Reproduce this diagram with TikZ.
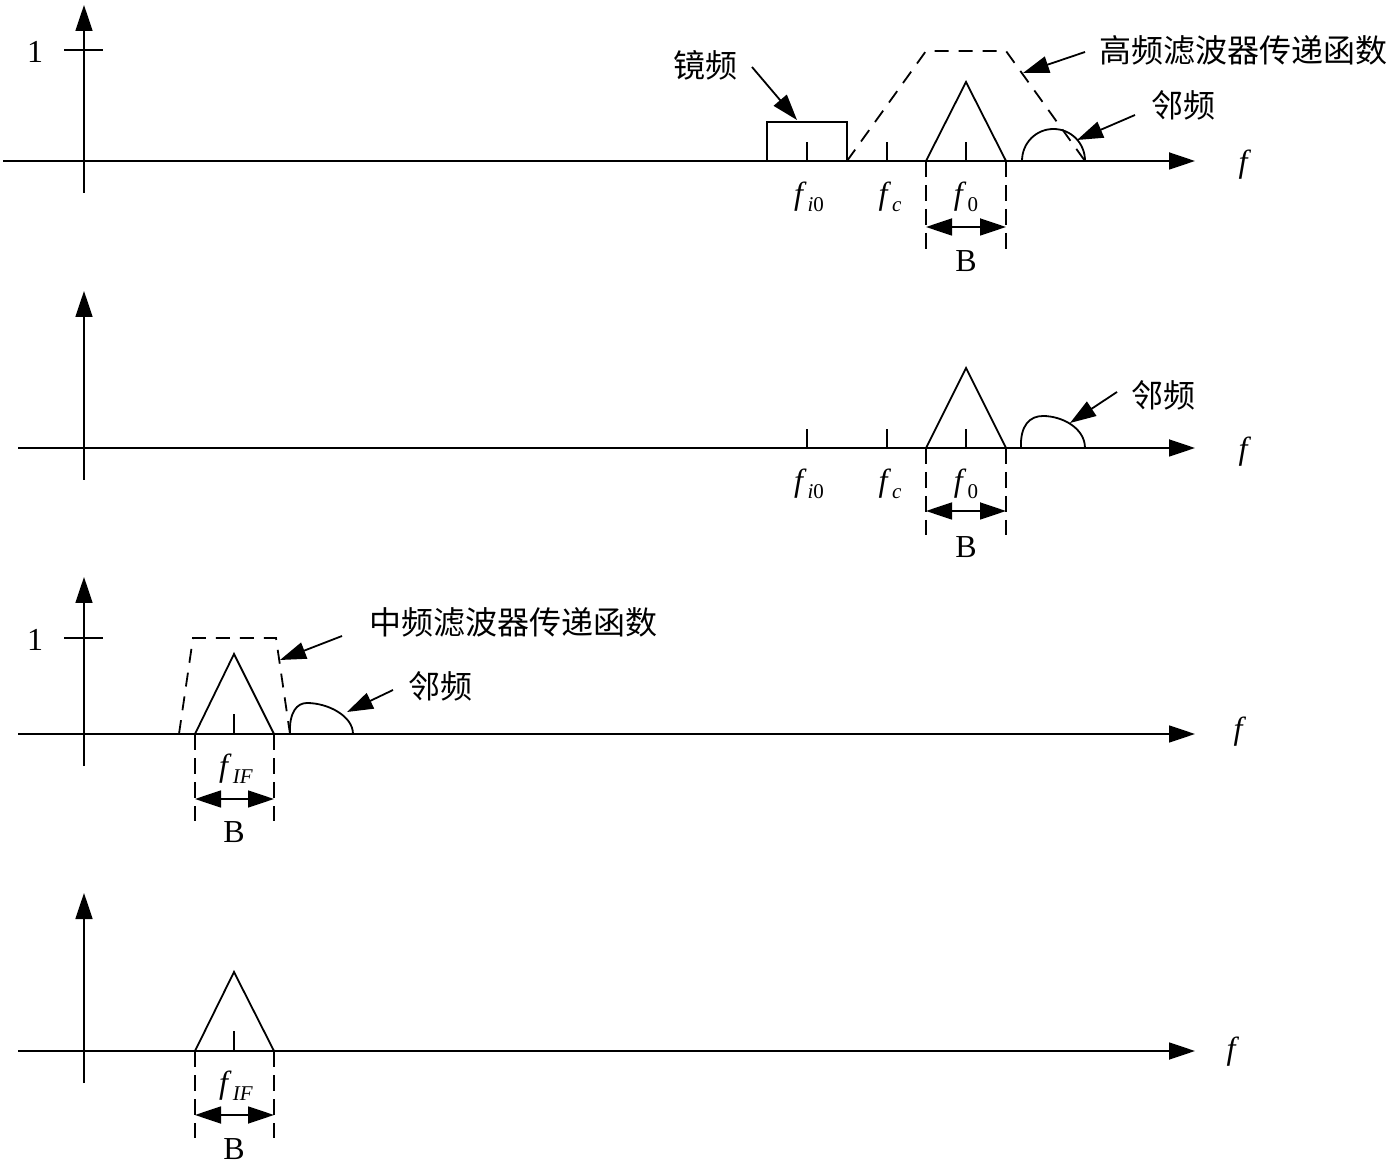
\documentclass[tikz,border=0pt]{standalone}
\usepackage{fontspec}
\setmainfont{Liberation Serif}
\newfontfamily\cjk{Noto Sans CJK SC}
\usetikzlibrary{arrows.meta}
\newcommand\flab[1]{\textit{f}\kern0.5pt\raisebox{-3.5pt}{\fontsize{10.5}{11}\selectfont #1}}
\begin{document}
\begin{tikzpicture}[x=0.5pt,y=-0.5pt,line width=0.9pt,
  tipr/.style={-{Triangle[length=13pt,width=8.5pt]}},
  dtip/.style={{Triangle[length=13pt,width=8.5pt]}-{Triangle[length=13pt,width=8.5pt]}},
  dsh/.style={dash pattern=on 7pt off 5pt},
  vdsh/.style={dash pattern=on 8pt off 4pt},
  lbl/.style={font=\fontsize{16}{18}\selectfont,inner sep=0pt},
  clbl/.style={font=\cjk\fontsize{16}{18}\selectfont,inner sep=0pt}]
\useasboundingbox (0,0) rectangle (1399,1176);

% ---------------- Panel 1 ----------------
\coordinate (h1s) at (3,161); \coordinate (h1e) at (1195,161);
\coordinate (v1s) at (84,193); \coordinate (v1e) at (84,5);
\draw[tipr] (h1s) -- (h1e);
\draw[tipr] (v1s) -- (v1e);
\coordinate (o1a) at (64,50); \coordinate (o1b) at (103,50);
\draw (o1a) -- (o1b);
\node[lbl] (one1) at (35,52) {1};
\node[lbl] (fa1) at (1245,165) {\textit{f}};
% image band
\coordinate (r1a) at (767,161); \coordinate (r1b) at (767,122);
\coordinate (r1c) at (847,122); \coordinate (r1d) at (847,161);
\draw (r1a) -- (r1b) -- (r1c) -- (r1d);
% ticks
\draw (807,161) -- (807,142);
\draw (887,161) -- (887,142);
\draw (966,161) -- (966,142);
% signal triangle
\coordinate (t1a) at (926,161); \coordinate (t1b) at (966,82); \coordinate (t1c) at (1006,161);
\draw (t1a) -- (t1b) -- (t1c);
% RF filter trapezoid
\coordinate (z1a) at (847,161); \coordinate (z1b) at (926,51);
\coordinate (z1c) at (1006,51); \coordinate (z1d) at (1085,161);
\draw[dsh] (z1a) -- (z1b) -- (z1c) -- (z1d);
% adjacent channel
\draw (1022,161) .. controls (1022,143) and (1036,129) .. (1053.5,129)
      .. controls (1071,129) and (1085,143) .. (1085,161);
% bandwidth
\coordinate (b1l) at (926,250); \coordinate (b1r) at (1006,250);
\draw[vdsh] (t1a) -- (b1l);
\draw[vdsh] (t1c) -- (b1r);
\coordinate (d1l) at (926,227); \coordinate (d1r) at (1006,227);
\draw[dtip] (d1l) -- (d1r);
\node[lbl] (fi1) at (809,197) {\flab{\textit{i}0}};
\node[lbl] (fc1) at (890,197) {\flab{\textit{c}}};
\node[lbl] (f01) at (966,197) {\flab{0}};
\node[lbl] (B1) at (966,261) {B};
% labels with pointers
\node[clbl] (jing) at (705,65) {镜频};
\coordinate (jp1) at (752,67); \coordinate (jp2) at (797,120);
\draw[tipr] (jp1) -- (jp2);
\node[clbl] (gao) at (1243,50) {高频滤波器传递函数};
\coordinate (gp1) at (1085,52); \coordinate (gp2) at (1023,73);
\draw[tipr] (gp1) -- (gp2);
\node[clbl] (lin1) at (1183,105) {邻频};
\coordinate (lp1) at (1135,115); \coordinate (lp2) at (1077,140);
\draw[tipr] (lp1) -- (lp2);

% ---------------- Panel 2 ----------------
\coordinate (h2s) at (18,448); \coordinate (h2e) at (1195,448);
\coordinate (v2s) at (84,480); \coordinate (v2e) at (84,291);
\draw[tipr] (h2s) -- (h2e);
\draw[tipr] (v2s) -- (v2e);
\node[lbl] (fa2) at (1245,452) {\textit{f}};
\draw (807,448) -- (807,429);
\draw (887,448) -- (887,429);
\draw (966,448) -- (966,429);
\coordinate (t2a) at (926,448); \coordinate (t2b) at (966,368); \coordinate (t2c) at (1006,448);
\draw (t2a) -- (t2b) -- (t2c);
\draw (1021,448) .. controls (1020,425) and (1030,416) .. (1043,416)
      .. controls (1062,416) and (1085,428) .. (1085,448);
\coordinate (b2l) at (926,535); \coordinate (b2r) at (1006,535);
\draw[vdsh] (t2a) -- (b2l);
\draw[vdsh] (t2c) -- (b2r);
\coordinate (d2l) at (926,511); \coordinate (d2r) at (1006,511);
\draw[dtip] (d2l) -- (d2r);
\node[lbl] (fi2) at (809,484) {\flab{\textit{i}0}};
\node[lbl] (fc2) at (890,484) {\flab{\textit{c}}};
\node[lbl] (f02) at (966,484) {\flab{0}};
\node[lbl] (B2) at (966,547) {B};
\node[clbl] (lin2) at (1163,395) {邻频};
\coordinate (lq1) at (1117,392); \coordinate (lq2) at (1070,423);
\draw[tipr] (lq1) -- (lq2);

% ---------------- Panel 3 ----------------
\coordinate (h3s) at (18,734); \coordinate (h3e) at (1195,734);
\coordinate (v3s) at (84,766); \coordinate (v3e) at (84,577);
\draw[tipr] (h3s) -- (h3e);
\draw[tipr] (v3s) -- (v3e);
\coordinate (o3a) at (64,638); \coordinate (o3b) at (103,638);
\draw (o3a) -- (o3b);
\node[lbl] (one3) at (35,640) {1};
\node[lbl] (fa3) at (1240,732) {\textit{f}};
\draw (234,734) -- (234,714);
\coordinate (t3a) at (195,734); \coordinate (t3b) at (234,654); \coordinate (t3c) at (274,734);
\draw (t3a) -- (t3b) -- (t3c);
\coordinate (z3a) at (179,734); \coordinate (z3b) at (193,638);
\coordinate (z3c) at (276,638); \coordinate (z3d) at (290,734);
\draw[dsh] (z3a) -- (z3b) -- (z3c) -- (z3d);
\draw (290,734) .. controls (289,712) and (297,703) .. (307,703)
      .. controls (328,703) and (353,716) .. (353,734);
\coordinate (b3l) at (195,821); \coordinate (b3r) at (274,821);
\draw[vdsh] (t3a) -- (b3l);
\draw[vdsh] (t3c) -- (b3r);
\coordinate (d3l) at (195,799); \coordinate (d3r) at (274,799);
\draw[dtip] (d3l) -- (d3r);
\node[lbl] (fif3) at (236,769) {\flab{\textit{IF}}};
\node[lbl] (B3) at (234,832) {B};
\node[clbl] (zhong) at (513,622) {中频滤波器传递函数};
\coordinate (zp1) at (342,636); \coordinate (zp2) at (280,660);
\draw[tipr] (zp1) -- (zp2);
\node[clbl] (lin3) at (440,686) {邻频};
\coordinate (lr1) at (393,690); \coordinate (lr2) at (347,712);
\draw[tipr] (lr1) -- (lr2);

% ---------------- Panel 4 ----------------
\coordinate (h4s) at (18,1051); \coordinate (h4e) at (1195,1051);
\coordinate (v4s) at (84,1083); \coordinate (v4e) at (84,893);
\draw[tipr] (h4s) -- (h4e);
\draw[tipr] (v4s) -- (v4e);
\node[lbl] (fa4) at (1233,1052) {\textit{f}};
\draw (234,1051) -- (234,1031);
\coordinate (t4a) at (195,1051); \coordinate (t4b) at (234,972); \coordinate (t4c) at (274,1051);
\draw (t4a) -- (t4b) -- (t4c);
\coordinate (b4l) at (195,1138); \coordinate (b4r) at (274,1138);
\draw[vdsh] (t4a) -- (b4l);
\draw[vdsh] (t4c) -- (b4r);
\coordinate (d4l) at (195,1115); \coordinate (d4r) at (274,1115);
\draw[dtip] (d4l) -- (d4r);
\node[lbl] (fif4) at (236,1086) {\flab{\textit{IF}}};
\node[lbl] (B4) at (234,1149) {B};
\end{tikzpicture}
\end{document}
